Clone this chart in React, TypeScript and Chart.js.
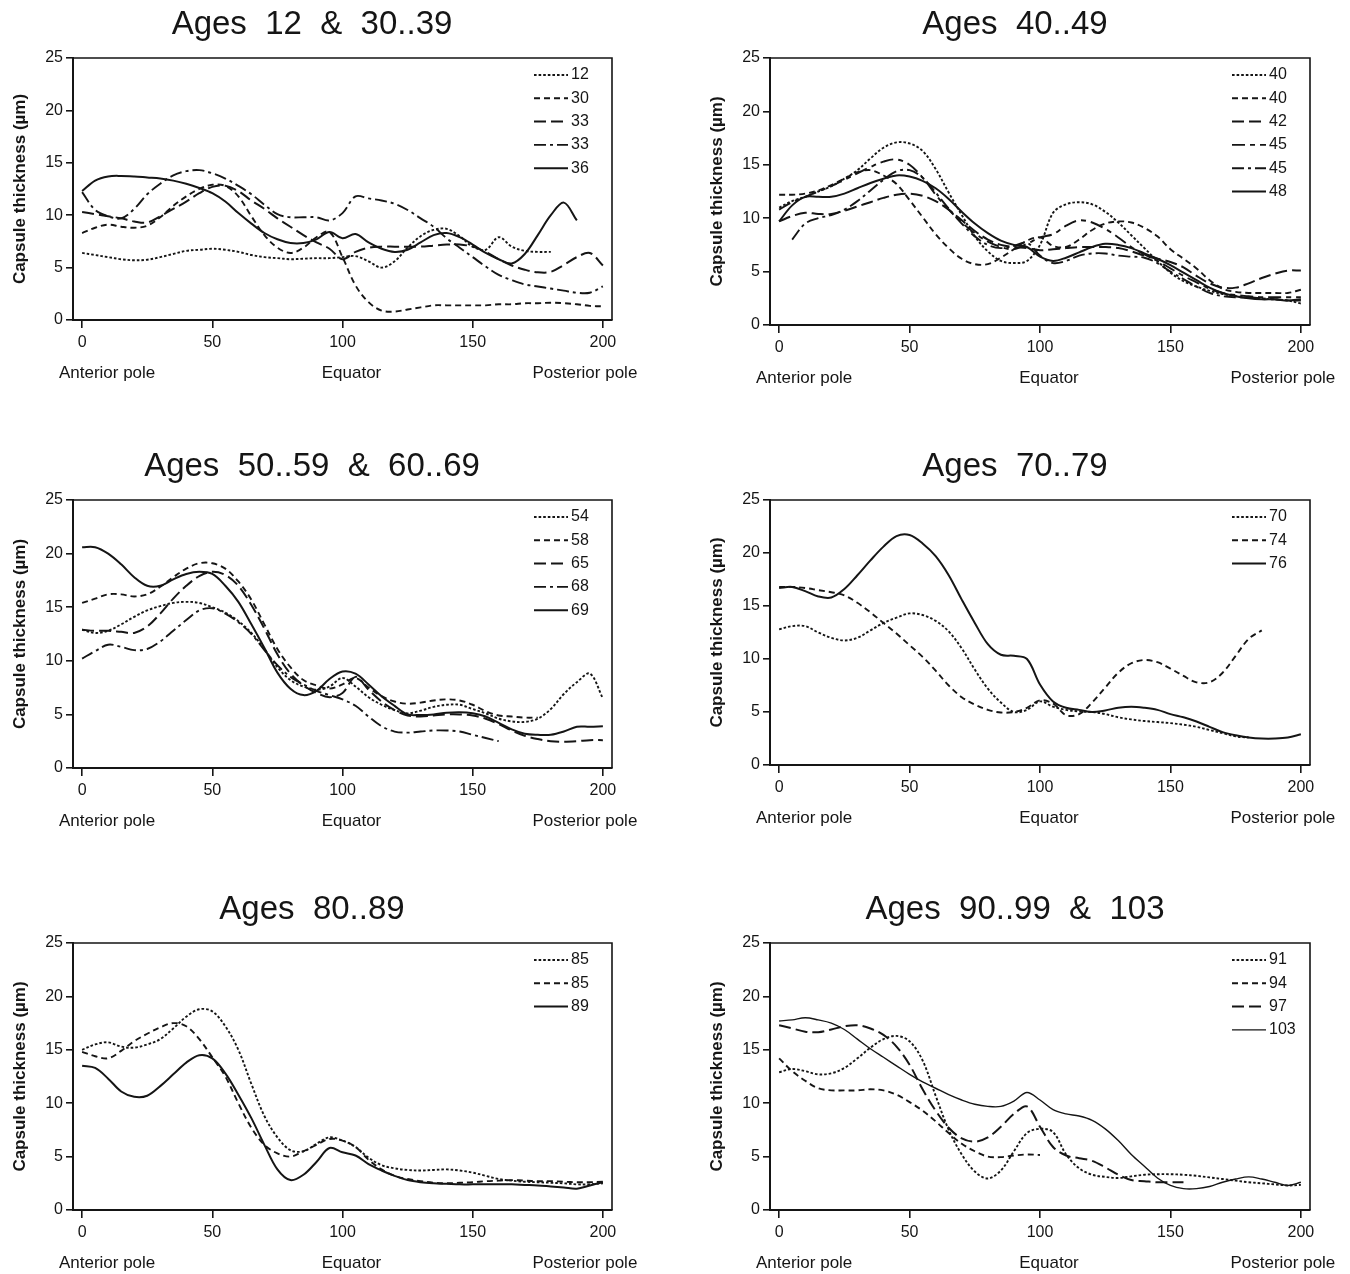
import React, { useEffect, useRef } from 'react';
import { Chart, registerables } from 'chart.js';

Chart.register(...registerables);

// ---------- shared axis values ----------
const X_POSITIONS = [0, 5, 10, 15, 20, 25, 30, 35, 40, 45, 50, 55, 60, 65, 70, 75, 80, 85, 90, 95, 100, 105, 110, 115, 120, 125, 130, 135, 140, 145, 150, 155, 160, 165, 170, 175, 180, 185, 190, 195, 200];
const X_TICKS = [0, 50, 100, 150, 200];
const Y_MIN = 0;
const Y_MAX = 25;
const Y_STEP = 5;
const Y_TITLE = 'Capsule thickness (µm)';
const POLE_TEXTS = ['Anterior pole', 'Equator', 'Posterior pole'];
const POLE_VALUES = [0, 100, 200];

// ---------- panel 1 : Ages 12 & 30..39 ----------
const P1_TITLE = 'Ages  12  &  30..39';
const P1_LABELS = ['12', '30', '33', '33', '36'];
const P1_STYLES = ['dot', 'dash', 'long', 'dashdot', 'solid'];
const P1_AGE12 = [6.4, 6.2, 6.0, 5.8, 5.7, 5.75, 6.0, 6.3, 6.6, 6.7, 6.8, 6.7, 6.5, 6.2, 6.0, 5.9, 5.8, 5.85, 5.9, 5.9, 6.0, 6.1, 5.6, 5.0, 5.6, 6.9, 8.0, 8.6, 8.7, 8.0, 7.0, 6.7, 7.9, 7.0, 6.6, 6.5, 6.5];
const P1_AGE30 = [8.3, 8.8, 9.1, 8.9, 8.8, 9.0, 9.8, 10.9, 11.8, 12.5, 12.9, 12.8, 11.8, 9.9, 8.1, 6.9, 6.4, 6.9, 7.9, 8.4, 6.0, 3.3, 1.7, 0.9, 0.8, 1.0, 1.2, 1.4, 1.4, 1.4, 1.4, 1.4, 1.5, 1.5, 1.6, 1.6, 1.65, 1.6, 1.5, 1.35, 1.3];
const P1_AGE33A = [10.3, 10.1, 9.9, 9.7, 9.4, 9.3, 9.9, 10.6, 11.3, 12.1, 12.7, 12.8, 12.3, 11.4, 10.6, 9.7, 8.9, 8.1, 7.4, 6.8, 5.8, 6.5, 6.9, 7.0, 7.0, 7.0, 7.0, 7.1, 7.2, 7.2, 7.0, 6.5, 5.8, 5.2, 4.8, 4.55, 4.6, 5.25, 6.0, 6.4, 5.2];
const P1_AGE33B = [12.2, 10.5, 9.9, 9.7, 10.6, 12.0, 13.0, 13.8, 14.2, 14.3, 14.0, 13.5, 12.8, 12.0, 11.0, 10.1, 9.8, 9.8, 9.8, 9.5, 10.2, 11.8, 11.6, 11.4, 11.1, 10.5, 9.7, 8.9, 7.8, 6.9, 6.0, 5.1, 4.3, 3.8, 3.4, 3.2, 3.0, 2.8, 2.6, 2.6, 3.2];
const P1_AGE36 = [12.3, 13.3, 13.7, 13.75, 13.7, 13.6, 13.5, 13.3, 13.0, 12.6, 12.1, 11.3, 10.2, 9.2, 8.3, 7.7, 7.35, 7.35, 7.7, 8.4, 7.8, 8.2, 7.4, 6.8, 6.5, 6.7, 7.4, 8.1, 8.3, 7.9, 7.2, 6.4, 5.8, 5.4, 6.3, 8.1, 10.0, 11.2, 9.5];

// ---------- panel 2 : Ages 40..49 ----------
const P2_TITLE = 'Ages  40..49';
const P2_LABELS = ['40', '40', '42', '45', '45', '48'];
const P2_STYLES = ['dot', 'dash', 'long', 'longshort', 'dashdot', 'solid'];
const P2_AGE40A = [11.0, 11.6, 12.0, 12.5, 13.0, 13.7, 14.5, 15.6, 16.6, 17.1, 17.0, 16.3, 14.6, 12.4, 10.3, 8.3, 6.9, 6.0, 5.8, 6.0, 7.5, 10.5, 11.3, 11.5, 11.3, 10.6, 9.6, 8.4, 7.2, 6.0, 4.9, 4.1, 3.6, 3.2, 2.9, 2.7, 2.55, 2.45, 2.4, 2.3, 2.0];
const P2_AGE40B = [12.2, 12.2, 12.3, 12.6, 13.1, 13.7, 14.3, 14.5, 14.0, 13.2, 11.7, 10.1, 8.5, 7.2, 6.2, 5.7, 5.7, 6.3, 7.1, 7.9, 8.2, 7.4, 7.3, 8.0, 8.9, 9.5, 9.7, 9.6, 9.1, 8.3, 7.1, 6.2, 5.3, 4.2, 3.4, 3.1, 3.0, 3.0, 3.0, 3.0, 3.3];
const P2_AGE42 = [9.7, 10.2, 10.5, 10.4, 10.4, 10.7, 11.1, 11.5, 11.9, 12.2, 12.3, 12.1, 11.6, 10.8, 9.8, 8.8, 8.0, 7.5, 7.3, 7.2, 7.0, 7.1, 7.2, 7.3, 7.3, 7.3, 7.2, 6.9, 6.5, 6.2, 5.9, 5.4, 4.6, 3.9, 3.5, 3.5, 3.9, 4.4, 4.8, 5.1, 5.1];
const P2_AGE45A = [10.8, 11.5, 12.0, 12.5, 13.0, 13.6, 14.2, 14.8, 15.3, 15.5, 15.0, 13.8, 12.2, 10.8, 9.6, 8.6, 7.8, 7.3, 7.1, 7.6, 8.2, 8.5, 9.3, 9.8, 9.6, 9.0, 8.2, 7.3, 6.6, 6.0, 5.3, 4.6, 4.0, 3.4, 3.0, 2.8, 2.7, 2.6, 2.6, 2.6, 2.6];
const P2_AGE45B = [null, 8.0, 9.5, 10.0, 10.3, 10.8, 11.6, 12.6, 13.6, 14.4, 14.5, 13.8, 12.4, 10.9, 9.5, 8.3, 7.5, 7.2, 7.4, 7.7, 6.5, 5.8, 6.0, 6.5, 6.7, 6.7, 6.5, 6.4, 6.3, 5.8, 5.0, 4.3, 3.6, 3.0, 2.7, 2.6, 2.6, 2.5, 2.4, 2.3, 2.3];
const P2_AGE48 = [9.7, 11.2, 12.0, 12.0, 12.0, 12.3, 12.8, 13.3, 13.7, 14.0, 13.9, 13.5, 12.8, 11.8, 10.6, 9.5, 8.6, 7.9, 7.5, 7.3, 6.4, 6.0, 6.3, 6.8, 7.3, 7.6, 7.5, 7.2, 6.7, 6.2, 5.6, 4.9, 4.2, 3.5, 3.0, 2.7, 2.5, 2.4, 2.4, 2.3, 2.4];

// ---------- panel 3 : Ages 50..59 & 60..69 ----------
const P3_TITLE = 'Ages  50..59  &  60..69';
const P3_LABELS = ['54', '58', '65', '68', '69'];
const P3_STYLES = ['dot', 'dash', 'long', 'dashdot', 'solid'];
const P3_AGE54 = [12.9, 12.6, 12.8, 13.4, 14.1, 14.7, 15.1, 15.4, 15.5, 15.4, 15.0, 14.5, 13.7, 12.6, 11.1, 9.4, 8.2, 7.6, 7.3, 7.6, 8.4, 7.6, 6.6, 5.9, 5.4, 5.1, 5.35, 5.7, 5.9, 5.9, 5.5, 5.1, 4.6, 4.35, 4.3, 4.6, 5.5, 6.9, 8.0, 8.8, 6.5];
const P3_AGE58 = [15.4, 15.8, 16.2, 16.2, 16.0, 16.2, 16.9, 17.8, 18.6, 19.1, 19.1, 18.6, 17.4, 15.7, 13.4, 11.1, 9.4, 8.2, 7.7, 7.4, 7.8, 8.4, 7.5, 6.7, 6.2, 6.0, 6.1, 6.3, 6.4, 6.3, 5.9, 5.3, 4.9, 4.8, 4.7, 4.7];
const P3_AGE65 = [12.9, 12.8, 12.8, 12.7, 12.6, 13.2, 14.4, 15.8, 17.0, 17.9, 18.3, 18.0, 17.0, 15.2, 13.0, 10.6, 8.8, 7.7, 7.0, 6.6, 7.0, 8.5, 7.3, 6.2, 5.4, 4.9, 4.8, 4.9, 5.0, 5.0, 4.9, 4.6, 4.1, 3.5, 3.0, 2.7, 2.5, 2.45, 2.5, 2.6, 2.6];
const P3_AGE68 = [10.2, 10.9, 11.5, 11.3, 11.0, 11.1, 11.8, 12.8, 13.8, 14.7, 14.9, 14.4, 13.6, 12.5, 11.0, 9.6, 8.5, 7.8, 7.2, 6.8, 6.4, 5.8, 4.8, 3.9, 3.4, 3.3, 3.4, 3.5, 3.5, 3.4, 3.1, 2.8, 2.5];
const P3_AGE69 = [20.6, 20.6, 20.0, 19.0, 17.8, 17.0, 17.0, 17.6, 18.1, 18.3, 18.1, 17.0, 15.5, 13.4, 11.2, 8.9, 7.4, 6.8, 7.2, 8.3, 9.0, 8.8, 7.8, 6.7, 5.8, 5.0, 4.95, 5.0, 5.15, 5.2, 5.1, 4.8, 4.2, 3.6, 3.2, 3.1, 3.1, 3.4, 3.85, 3.85, 3.9];

// ---------- panel 4 : Ages 70..79 ----------
const P4_TITLE = 'Ages  70..79';
const P4_LABELS = ['70', '74', '76'];
const P4_STYLES = ['dot', 'dash', 'solid'];
const P4_AGE70 = [12.8, 13.1, 13.1, 12.5, 12.0, 11.75, 12.0, 12.7, 13.4, 13.9, 14.3, 14.15, 13.6, 12.6, 11.0, 9.0, 7.2, 5.9, 5.0, 5.2, 6.0, 5.5, 5.2, 5.05, 5.0, 4.8, 4.5, 4.3, 4.15, 4.05, 3.95, 3.8, 3.6, 3.3, 3.0, 2.7, 2.6];
const P4_AGE74 = [16.8, 16.8, 16.7, 16.5, 16.3, 16.0, 15.3, 14.4, 13.4, 12.4, 11.3, 10.2, 8.9, 7.5, 6.4, 5.7, 5.2, 4.95, 5.0, 5.4, 6.1, 5.8, 4.7, 4.8, 5.9, 7.3, 8.7, 9.6, 9.9, 9.7, 9.1, 8.4, 7.8, 7.8, 8.7, 10.3, 11.9, 12.7];
const P4_AGE76 = [16.7, 16.8, 16.4, 15.9, 15.8, 16.6, 17.9, 19.3, 20.6, 21.6, 21.7, 20.9, 19.7, 17.9, 15.6, 13.4, 11.4, 10.4, 10.3, 10.0, 7.6, 6.0, 5.4, 5.2, 5.0, 5.15, 5.4, 5.5, 5.4, 5.2, 4.8, 4.5, 4.1, 3.6, 3.1, 2.8, 2.6, 2.5, 2.5, 2.6, 2.9];

// ---------- panel 5 : Ages 80..89 ----------
const P5_TITLE = 'Ages  80..89';
const P5_LABELS = ['85', '85', '89'];
const P5_STYLES = ['dot', 'dash', 'solid'];
const P5_AGE85A = [15.0, 15.5, 15.7, 15.3, 15.2, 15.5, 16.0, 17.0, 18.1, 18.8, 18.6, 17.2, 15.0, 11.8, 8.8, 6.8, 5.6, 5.5, 6.2, 6.8, 6.5, 5.9, 4.9, 4.2, 3.9, 3.75, 3.7, 3.75, 3.8, 3.7, 3.5, 3.2, 2.9, 2.75, 2.65, 2.6, 2.55, 2.5, 2.4, 2.4, 2.5];
const P5_AGE85B = [14.8, 14.4, 14.2, 14.9, 15.8, 16.5, 17.1, 17.5, 17.2, 16.0, 14.3, 12.5, 10.0, 7.7, 6.1, 5.3, 5.0, 5.5, 6.1, 6.65, 6.5, 5.9, 4.7, 3.8, 3.2, 2.9, 2.7, 2.55, 2.5, 2.55, 2.6, 2.7, 2.75, 2.8, 2.75, 2.7, 2.7, 2.65, 2.6, 2.6, 2.65];
const P5_AGE89 = [13.5, 13.3, 12.3, 11.1, 10.6, 10.7, 11.6, 12.7, 13.8, 14.5, 14.2, 12.8, 10.8, 8.6, 6.1, 3.8, 2.8, 3.3, 4.5, 5.8, 5.4, 5.1, 4.3, 3.7, 3.2, 2.8, 2.6, 2.5, 2.45, 2.4, 2.4, 2.4, 2.4, 2.4, 2.35, 2.3, 2.2, 2.1, 2.0, 2.3, 2.6];

// ---------- panel 6 : Ages 90..99 & 103 ----------
const P6_TITLE = 'Ages  90..99  &  103';
const P6_LABELS = ['91', '94', '97', '103'];
const P6_STYLES = ['dot', 'dash', 'long', 'thin'];
const P6_AGE91 = [12.9, 13.2, 13.0, 12.7, 12.8, 13.3, 14.2, 15.2, 16.0, 16.3, 15.8, 14.0, 10.7, 7.5, 5.2, 3.6, 2.95, 3.7, 5.5, 7.2, 7.6, 7.3, 5.2, 3.9, 3.3, 3.1, 3.0, 3.15, 3.3, 3.35, 3.35, 3.3, 3.2, 3.05, 2.9, 2.75, 2.6, 2.5, 2.4, 2.3, 2.35];
const P6_AGE94 = [14.2, 13.0, 12.1, 11.4, 11.2, 11.2, 11.2, 11.3, 11.2, 10.8, 10.1, 9.3, 8.3, 7.2, 6.2, 5.5, 5.0, 4.95, 5.1, 5.2, 5.15];
const P6_AGE97 = [17.3, 17.0, 16.7, 16.65, 16.9, 17.2, 17.3, 17.0, 16.4, 15.3, 13.6, 11.3, 9.3, 7.7, 6.7, 6.4, 6.8, 7.8, 9.0, 9.7, 7.8, 5.9, 5.1, 4.85, 4.6, 4.0, 3.3, 2.8, 2.7, 2.6, 2.6, 2.6];
const P6_AGE103 = [17.7, 17.8, 18.0, 17.8, 17.5, 16.9, 16.0, 15.1, 14.3, 13.5, 12.7, 12.0, 11.4, 10.8, 10.3, 9.9, 9.7, 9.7, 10.2, 11.0, 10.3, 9.4, 9.0, 8.8, 8.4, 7.6, 6.5, 5.2, 4.1, 3.0, 2.3, 2.0, 2.0, 2.2, 2.6, 2.9, 3.1, 2.9, 2.6, 2.3, 2.6];

// ---------- tables built from the arrays ----------
const PANELS = [
  { title: P1_TITLE, labels: P1_LABELS, styles: P1_STYLES, series: [P1_AGE12, P1_AGE30, P1_AGE33A, P1_AGE33B, P1_AGE36] },
  { title: P2_TITLE, labels: P2_LABELS, styles: P2_STYLES, series: [P2_AGE40A, P2_AGE40B, P2_AGE42, P2_AGE45A, P2_AGE45B, P2_AGE48] },
  { title: P3_TITLE, labels: P3_LABELS, styles: P3_STYLES, series: [P3_AGE54, P3_AGE58, P3_AGE65, P3_AGE68, P3_AGE69] },
  { title: P4_TITLE, labels: P4_LABELS, styles: P4_STYLES, series: [P4_AGE70, P4_AGE74, P4_AGE76] },
  { title: P5_TITLE, labels: P5_LABELS, styles: P5_STYLES, series: [P5_AGE85A, P5_AGE85B, P5_AGE89] },
  { title: P6_TITLE, labels: P6_LABELS, styles: P6_STYLES, series: [P6_AGE91, P6_AGE94, P6_AGE97, P6_AGE103] },
];

// ---------- layout / style ----------
const PANEL_H = 389;
const X_AXIS_H = 40;
const PLOT_TOP = 58;
const LAYOUT = [
  { left: 0, top: 0, width: 650, plotRight: 612, plotBottom: 320, titleX: 312 },
  { left: 697, top: 0, width: 653, plotRight: 613, plotBottom: 325, titleX: 318 },
  { left: 0, top: 442, width: 650, plotRight: 612, plotBottom: 326, titleX: 312 },
  { left: 697, top: 442, width: 653, plotRight: 613, plotBottom: 323, titleX: 318 },
  { left: 0, top: 885, width: 650, plotRight: 612, plotBottom: 325, titleX: 312 },
  { left: 697, top: 885, width: 653, plotRight: 613, plotBottom: 325, titleX: 318 },
];
const FONT = "'Liberation Sans', Arial, Helvetica, sans-serif";
const INK = '#151515';
const DASHES: Record<string, number[]> = {
  dot: [2.6, 2],
  dash: [6, 4],
  long: [12, 5],
  dashdot: [12, 4, 3, 4],
  longshort: [13, 5, 5, 5],
  solid: [],
  thin: [],
};
const WIDTHS: Record<string, number> = { dot: 1.9, dash: 1.9, long: 2, dashdot: 1.9, longshort: 1.9, solid: 2, thin: 1.4 };

const decorPlugin = {
  id: 'decor',
  afterDraw(chart: any, _args: any, opts: any) {
    const { ctx, chartArea: a } = chart;
    const xs = chart.scales.x;
    ctx.save();
    // top & right frame
    ctx.strokeStyle = INK;
    ctx.lineWidth = 1.6;
    ctx.setLineDash([]);
    ctx.beginPath();
    ctx.moveTo(a.left, a.top);
    ctx.lineTo(a.right, a.top);
    ctx.lineTo(a.right, a.bottom);
    ctx.stroke();
    // title
    ctx.fillStyle = INK;
    ctx.font = `33px ${FONT}`;
    ctx.textAlign = 'center';
    ctx.textBaseline = 'middle';
    ctx.fillText(opts.title, opts.titleX, 25);
    // pole labels
    ctx.font = `17px ${FONT}`;
    const dx = [25, 9, -18];
    POLE_TEXTS.forEach((t, i) => {
      ctx.fillText(t, xs.getPixelForValue(POLE_VALUES[i]) + dx[i], a.bottom + 53);
    });
    // legend
    ctx.font = `16px ${FONT}`;
    ctx.textAlign = 'left';
    chart.data.datasets.forEach((ds: any, i: number) => {
      const y = a.top + 17 + i * 23.3;
      ctx.strokeStyle = INK;
      ctx.lineWidth = ds.borderWidth;
      ctx.setLineDash(ds.borderDash || []);
      ctx.beginPath();
      ctx.moveTo(a.right - 78, y);
      ctx.lineTo(a.right - 44, y);
      ctx.stroke();
      ctx.setLineDash([]);
      ctx.fillText(ds.label, a.right - 41, y);
    });
    ctx.restore();
  },
};

function Panel({ index }: { index: number }) {
  const ref = useRef<HTMLCanvasElement>(null);
  const p = PANELS[index];
  const l = LAYOUT[index];
  useEffect(() => {
    const datasets = p.series.map((ys, si) => ({
      label: p.labels[si],
      data: ys
        .map((y, i) => (y == null ? null : { x: X_POSITIONS[i], y }))
        .filter((d) => d !== null),
      borderColor: INK,
      borderWidth: WIDTHS[p.styles[si]],
      borderDash: DASHES[p.styles[si]],
      pointRadius: 0,
      tension: 0.35,
      fill: false,
    }));
    const chart = new Chart(ref.current as HTMLCanvasElement, {
      type: 'line',
      data: { datasets } as any,
      plugins: [decorPlugin],
      options: {
        animation: false,
        responsive: false,
        devicePixelRatio: 1,
        layout: {
          padding: {
            top: PLOT_TOP,
            left: 0,
            right: l.width - l.plotRight,
            bottom: PANEL_H - X_AXIS_H - l.plotBottom,
          },
        },
        plugins: {
          legend: { display: false },
          tooltip: { enabled: false },
          title: { display: false },
          decor: { title: p.title, titleX: l.titleX },
        } as any,
        scales: {
          x: {
            type: 'linear',
            min: -3.5,
            max: 203.5,
            afterBuildTicks: (s: any) => {
              s.ticks = X_TICKS.map((v) => ({ value: v }));
            },
            afterFit: (s: any) => {
              s.height = X_AXIS_H;
            },
            grid: { drawOnChartArea: false, drawTicks: true, tickLength: 8, color: INK, lineWidth: 1.6 },
            border: { display: true, color: INK, width: 2 },
            ticks: { color: INK, font: { family: FONT, size: 16 }, padding: 5, maxRotation: 0, autoSkip: false },
          },
          y: {
            type: 'linear',
            min: Y_MIN,
            max: Y_MAX,
            afterFit: (s: any) => {
              s.width = 73;
            },
            grid: { drawOnChartArea: false, drawTicks: true, tickLength: 7, color: INK, lineWidth: 1.6 },
            border: { display: true, color: INK, width: 2 },
            ticks: { stepSize: Y_STEP, color: INK, font: { family: FONT, size: 16 }, padding: 3 },
            title: {
              display: true,
              text: Y_TITLE,
              color: INK,
              font: { family: FONT, size: 17, weight: 'bold' },
              padding: { top: 10, bottom: 0 },
            },
          },
        },
      } as any,
    });
    return () => chart.destroy();
  }, []);
  return (
    <canvas
      ref={ref}
      width={l.width}
      height={PANEL_H}
      style={{ position: 'absolute', left: l.left, top: l.top, width: l.width, height: PANEL_H }}
    />
  );
}

export default function App() {
  return (
    <div
      style={{
        position: 'absolute',
        left: 0,
        top: 0,
        width: 1350,
        height: 1274,
        overflow: 'hidden',
        background: '#fff',
      }}
    >
      {PANELS.map((_, i) => (
        <Panel key={i} index={i} />
      ))}
    </div>
  );
}
